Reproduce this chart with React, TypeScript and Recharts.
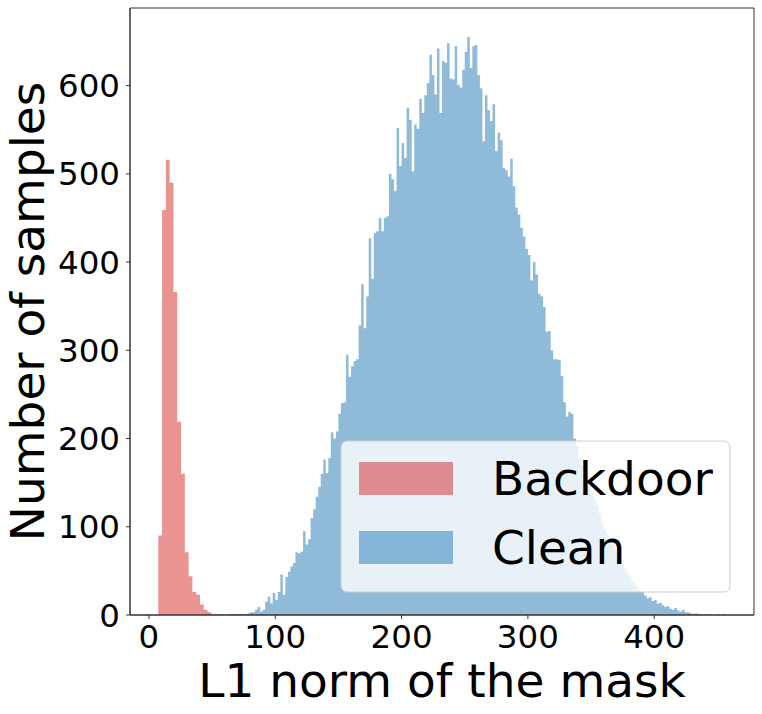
import { Area, AreaChart, Label, ReferenceArea, XAxis, YAxis } from "recharts";

// histogram counts
const backdoorStart = 7.4;
const backdoorWidth = 3;
const backdoorCounts = [90, 459, 516, 490, 366, 219, 160, 71, 44, 26, 23, 12, 6, 3, 1, 1, 1, 0, 1, 1, 1, 1];

const cleanStart = 72;
const cleanWidth = 2;
const cleanCounts = [
  1, 1, 1, 2, 3, 3, 6, 9, 4, 6, 15, 21, 13, 25, 17, 26, 46, 23, 43, 49,
  55, 59, 71, 70, 72, 95, 80, 86, 110, 120, 134, 145, 160, 176, 161, 178, 207, 200, 208, 228,
  240, 241, 295, 270, 282, 288, 290, 328, 375, 325, 361, 427, 381, 433, 435, 450, 435, 450, 452, 500,
  494, 481, 552, 509, 535, 518, 575, 561, 503, 556, 551, 585, 569, 589, 603, 635, 612, 590, 642, 569,
  628, 626, 648, 608, 607, 645, 601, 598, 618, 638, 655, 620, 645, 646, 612, 597, 537, 589, 572, 560,
  579, 526, 547, 538, 507, 504, 497, 517, 486, 462, 454, 439, 429, 415, 408, 379, 400, 386, 364, 361,
  349, 321, 322, 300, 290, 290, 289, 271, 241, 225, 230, 228, 200, 192, 178, 170, 160, 155, 145, 138,
  130, 124, 115, 104, 98, 92, 86, 80, 75, 70, 64, 58, 53, 48, 44, 38, 34, 30, 28, 26,
  22, 19, 20, 16, 17, 13, 14, 11, 9, 10, 7, 6, 8, 5, 4, 6, 3, 3, 2, 1,
  2, 1, 1, 0, 1, 0, 1, 0, 0, 1, 0, 1,
];

const seriesNames = ["Backdoor", "Clean"];
const xTicks = [0, 100, 200, 300, 400];
const yTicks = [0, 100, 200, 300, 400, 500, 600];
const xDomain = [-15, 479];
const yDomain = [0, 688];

const RED = "#d62728";
const BLUE = "#1f77b4";
const FONT = "'DejaVu Sans', sans-serif";
const AXIS = "#333";

type Row = { x: number; backdoor?: number; clean?: number };

// bin edges of both histograms in one table; each series steps from its own edges
function buildRows(): Row[] {
  const rows = new Map<number, Row>();
  const put = (x: number, key: "backdoor" | "clean", v: number) => {
    const k = Math.round(x * 1000) / 1000;
    const row = rows.get(k) ?? { x: k };
    row[key] = v;
    rows.set(k, row);
  };
  backdoorCounts.forEach((c, i) => put(backdoorStart + i * backdoorWidth, "backdoor", c));
  put(backdoorStart + backdoorCounts.length * backdoorWidth, "backdoor", 0);
  cleanCounts.forEach((c, i) => put(cleanStart + i * cleanWidth, "clean", c));
  put(cleanStart + cleanCounts.length * cleanWidth, "clean", 0);
  return [...rows.values()].sort((a, b) => a.x - b.x);
}

const rows = buildRows();

function YTitle(props: any) {
  const vb = props.viewBox ?? { x: 0, y: 8, width: 130, height: 607 };
  const x = vb.x + 44;
  const y = vb.y + vb.height / 2;
  return (
    <text x={x} y={y} transform={`rotate(-90, ${x}, ${y})`} textAnchor="middle"
      fontSize={47} fontFamily={FONT} fill="#000">
      Number of samples
    </text>
  );
}

function XTitle(props: any) {
  const vb = props.viewBox ?? { x: 130, y: 615, width: 624, height: 99 };
  return (
    <text x={vb.x + vb.width / 2} y={vb.y + 82} textAnchor="middle"
      fontSize={47} fontFamily={FONT} fill="#000">
      L1 norm of the mask
    </text>
  );
}

function HistLegend() {
  const colors = [RED, BLUE];
  return (
    <svg width={762} height={714} style={{ position: "absolute", left: 0, top: 0, pointerEvents: "none" }}>
      <rect x={341} y={441} width={389} height={151} rx={6} ry={6}
        fill="#fff" fillOpacity={0.8} stroke="#cccccc" strokeWidth={1} />
      {seriesNames.map((name, i) => (
        <g key={name}>
          <rect x={359} y={462 + i * 69} width={94} height={33} fill={colors[i]} fillOpacity={0.5} />
          <text x={492} y={495 + i * 68.5} fontSize={47} fontFamily={FONT} fill="#000">{name}</text>
        </g>
      ))}
    </svg>
  );
}

export default function App() {
  const tickStyle = { fontSize: 32.5, fontFamily: FONT, fill: "#000" };
  return (
    <div style={{ position: "absolute", left: 0, top: 0, width: 762, height: 714, background: "#fff", fontFamily: FONT }}>
      <AreaChart width={762} height={714} data={rows} margin={{ top: 8, right: 8, bottom: 0, left: 0 }}>
        <XAxis dataKey="x" type="number" domain={xDomain} ticks={xTicks} allowDataOverflow
          height={99} tick={tickStyle} tickSize={4} tickMargin={6}
          axisLine={{ stroke: AXIS }} tickLine={{ stroke: AXIS }}>
          <Label content={XTitle} />
        </XAxis>
        <YAxis type="number" domain={yDomain} ticks={yTicks} allowDataOverflow
          width={130} tick={tickStyle} tickSize={4} tickMargin={6}
          axisLine={{ stroke: AXIS }} tickLine={{ stroke: AXIS }}>
          <Label content={YTitle} />
        </YAxis>
        <Area dataKey="backdoor" name={seriesNames[0]} type="stepAfter" connectNulls
          fill={RED} fillOpacity={0.5} stroke="none" isAnimationActive={false} />
        <Area dataKey="clean" name={seriesNames[1]} type="stepAfter" connectNulls
          fill={BLUE} fillOpacity={0.5} stroke="none" isAnimationActive={false} />
        {/* plot frame (matplotlib spines) */}
        <ReferenceArea x1={xDomain[0]} x2={xDomain[1]} y1={yDomain[0]} y2={yDomain[1]}
          fill="none" fillOpacity={0} stroke={AXIS} strokeWidth={1} />
      </AreaChart>
      <HistLegend />
    </div>
  );
}
